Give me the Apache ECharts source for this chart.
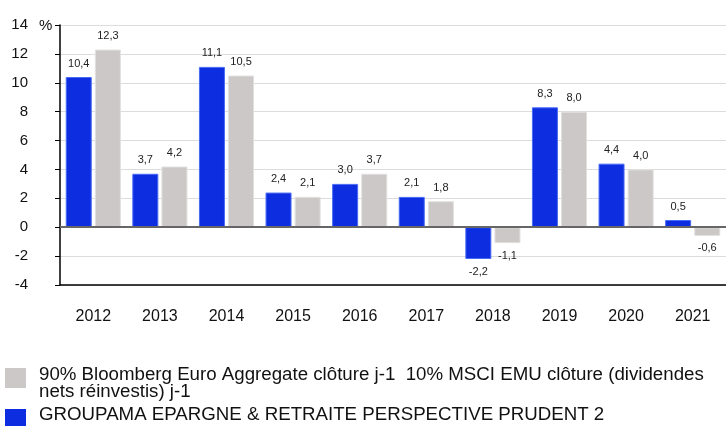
<!DOCTYPE html>
<html>
<head>
<meta charset="utf-8">
<script src="https://cdn.jsdelivr.net/npm/echarts@6/dist/echarts.min.js"></script>
<style>html,body{margin:0;padding:0;background:#fff}#c{width:726px;height:426px}</style>
</head>
<body>
<div id="c"></div>
<script>
const years = ['2012','2013','2014','2015','2016','2017','2018','2019','2020','2021'];
const fundName = 'GROUPAMA EPARGNE & RETRAITE PERSPECTIVE PRUDENT 2';
const benchName = '90% Bloomberg Euro Aggregate clôture j-1  10% MSCI EMU clôture (dividendes nets réinvestis) j-1';
const fundValues = [10.4, 3.7, 11.1, 2.4, 3.0, 2.1, -2.2, 8.3, 4.4, 0.5];
const benchValues = [12.3, 4.2, 10.5, 2.1, 3.7, 1.8, -1.1, 8.0, 4.0, -0.6];
const yTicks = [-4, -2, 0, 2, 4, 6, 8, 10, 12, 14];

const fundColor = '#0d2ee0';
const benchColor = '#ccc8c8';
const font = 'Arial, "Liberation Sans", sans-serif';
const fmt = v => v.toFixed(1).replace('.', ',');
function labelled(vals) {
  return vals.map(v => ({
    value: v,
    label: {
      show: true,
      position: v >= 0 ? 'top' : 'bottom',
      distance: v >= 0 ? 8 : 7,
      formatter: () => fmt(v),
      fontSize: 11, color: '#222', fontFamily: font
    }
  }));
}

const chart = echarts.init(document.getElementById('c'), null, {renderer: 'canvas'});
chart.setOption({
  animation: false,
  grid: {left: 60, top: 25, height: 260, right: -10},
  xAxis: {
    type: 'category',
    data: years,
    axisLine: {onZero: false, lineStyle: {color: '#000', width: 1.5}},
    axisTick: {alignWithLabel: true, length: 5, lineStyle: {color: '#000'}},
    axisLabel: {fontSize: 16, color: '#111', fontFamily: font, margin: 24}
  },
  yAxis: {
    type: 'value',
    min: yTicks[0], max: yTicks[yTicks.length - 1], interval: 2,
    axisLine: {show: true, lineStyle: {color: '#000', width: 1.5}},
    axisTick: {show: true, length: 5, lineStyle: {color: '#000'}},
    axisLabel: {fontSize: 15, color: '#111', fontFamily: font, margin: 32},
    splitLine: {lineStyle: {color: '#dcdcdc', width: 1}}
  },
  graphic: [
    {type: 'text', left: 39, top: 18,
     style: {text: '%', fontSize: 15, fill: '#111', fontFamily: font}},
    {type: 'rect', shape: {x: 5, y: 368, width: 21, height: 20}, style: {fill: benchColor}},
    {type: 'text', x: 39, y: 366,
     style: {text: benchName, fontSize: 18.7, lineHeight: 17, width: 690, overflow: 'break',
             fill: '#111', fontFamily: font}},
    {type: 'rect', shape: {x: 5, y: 409, width: 21, height: 19}, style: {fill: fundColor}},
    {type: 'text', x: 39, y: 406,
     style: {text: fundName, fontSize: 18.7, lineHeight: 17, fill: '#111', fontFamily: font}}
  ],
  series: [
    {
      name: fundName, type: 'bar',
      data: labelled(fundValues),
      barWidth: 26, barGap: '12%',
      itemStyle: {color: fundColor, borderColor: '#4a6bf5', borderWidth: 1},
      markLine: {
        silent: true, symbol: 'none', label: {show: false},
        lineStyle: {color: '#666', width: 2, type: 'solid'},
        data: [{yAxis: 0}]
      },
      z: 3
    },
    {
      name: benchName, type: 'bar',
      data: labelled(benchValues),
      barWidth: 26,
      itemStyle: {color: benchColor, borderColor: '#e2dfdf', borderWidth: 1},
      z: 3
    }
  ]
});
</script>
</body>
</html>
